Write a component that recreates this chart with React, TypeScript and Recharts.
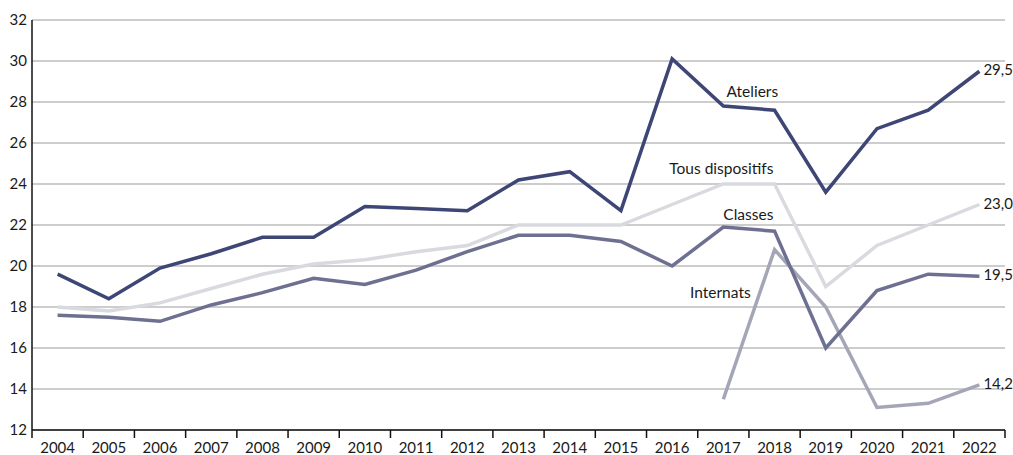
import { LineChart, Line, XAxis, YAxis, CartesianGrid, LabelList } from "recharts";

const years = [
  "2004", "2005", "2006", "2007", "2008", "2009", "2010", "2011", "2012", "2013",
  "2014", "2015", "2016", "2017", "2018", "2019", "2020", "2021", "2022",
];

const ateliers = [19.6, 18.4, 19.9, 20.6, 21.4, 21.4, 22.9, 22.8, 22.7, 24.2, 24.6, 22.7, 30.1, 27.8, 27.6, 23.6, 26.7, 27.6, 29.5];
const tous = [18.0, 17.8, 18.2, 18.9, 19.6, 20.1, 20.3, 20.7, 21.0, 22.0, 22.0, 22.0, 23.0, 24.0, 24.0, 19.0, 21.0, 22.0, 23.0];
const classes = [17.6, 17.5, 17.3, 18.1, 18.7, 19.4, 19.1, 19.8, 20.7, 21.5, 21.5, 21.2, 20.0, 21.9, 21.7, 16.0, 18.8, 19.6, 19.5];
const internats: (number | null)[] = [null, null, null, null, null, null, null, null, null, null, null, null, null, 13.5, 20.8, 18.0, 13.1, 13.3, 14.2];

const yTicks = [12, 14, 16, 18, 20, 22, 24, 26, 28, 30, 32];

const data = years.map((year, i) => ({
  year,
  ateliers: ateliers[i],
  tous: tous[i],
  classes: classes[i],
  internats: internats[i],
}));

const FONT = "Lato, 'Open Sans', sans-serif";
const TEXT = "#1a1a1a";
const LAST = years.length - 1;
const LABEL_AT = years.indexOf("2017");

const BAND = 973 / years.length;

const XTick = (props: any) => {
  const { x, y, payload, index } = props;
  return (
    <g>
      <line x1={x - BAND / 2} x2={x - BAND / 2} y1={y} y2={y + 8} stroke="#111" strokeWidth={1.5} />
      {index === LAST && (
        <line x1={x + BAND / 2} x2={x + BAND / 2} y1={y} y2={y + 8} stroke="#111" strokeWidth={1.5} />
      )}
      <text x={x} y={y + 23} textAnchor="middle" fontSize={15} fill={TEXT} fontFamily={FONT}>
        {payload.value}
      </text>
    </g>
  );
};

const endLabel = (text: (v: number) => string) => (props: any) => {
  const { x, y, index, value } = props;
  if (index !== LAST) return null;
  return (
    <text x={x + 4} y={y + 4} fontSize={15} fill={TEXT} fontFamily={FONT}>
      {text(value)}
    </text>
  );
};

const nameLabel = (name: string, dx: number, dy: number) => (props: any) => {
  const { x, y, index } = props;
  if (index !== LABEL_AT) return null;
  return (
    <text x={x + dx} y={y + dy} textAnchor="middle" fontSize={15.5} fill={TEXT} fontFamily={FONT}>
      {name}
    </text>
  );
};

const fmt = (v: number) => v.toFixed(1).replace(".", ",");

export default function App() {
  return (
    <div style={{ position: "fixed", left: 0, top: 0, width: 1013, height: 455, background: "#fff" }}>
      <LineChart width={1013} height={455} data={data} margin={{ top: 20, right: 8, bottom: 0, left: 0 }}>
        <CartesianGrid vertical={false} stroke="#bdbdbd" strokeWidth={1.5} />
        <XAxis
          dataKey="year"
          scale="band"
          tickLine={false}
          tickSize={0}
          tickMargin={0}
          height={25}
          axisLine={{ stroke: "#111", strokeWidth: 1.5 }}
          tick={<XTick />}
          interval={0}
        />
        <YAxis
          domain={[12, 32]}
          ticks={yTicks}
          width={32}
          tickLine={false}
          tickSize={5}
          tickMargin={0}
          axisLine={{ stroke: "#111", strokeWidth: 1.5 }}
          tick={{ fontSize: 15, fill: TEXT, fontFamily: FONT }}
        />
        <Line dataKey="tous" stroke="#d9dadf" strokeWidth={3.5} dot={false} isAnimationActive={false}>
          <LabelList content={endLabel(fmt)} />
          <LabelList content={nameLabel("Tous dispositifs", -2, -10)} />
        </Line>
        <Line dataKey="internats" stroke="#a4a6b8" strokeWidth={3.5} dot={false} isAnimationActive={false}>
          <LabelList content={endLabel(fmt)} />
          <LabelList content={nameLabel("Internats", -3, -101)} />
        </Line>
        <Line dataKey="classes" stroke="#6d7091" strokeWidth={3.5} dot={false} isAnimationActive={false}>
          <LabelList content={endLabel(fmt)} />
          <LabelList content={nameLabel("Classes", 25, -7)} />
        </Line>
        <Line dataKey="ateliers" stroke="#3e4676" strokeWidth={3.5} dot={false} isAnimationActive={false}>
          <LabelList content={endLabel(fmt)} />
          <LabelList content={nameLabel("Ateliers", 29, -9)} />
        </Line>
      </LineChart>
    </div>
  );
}
